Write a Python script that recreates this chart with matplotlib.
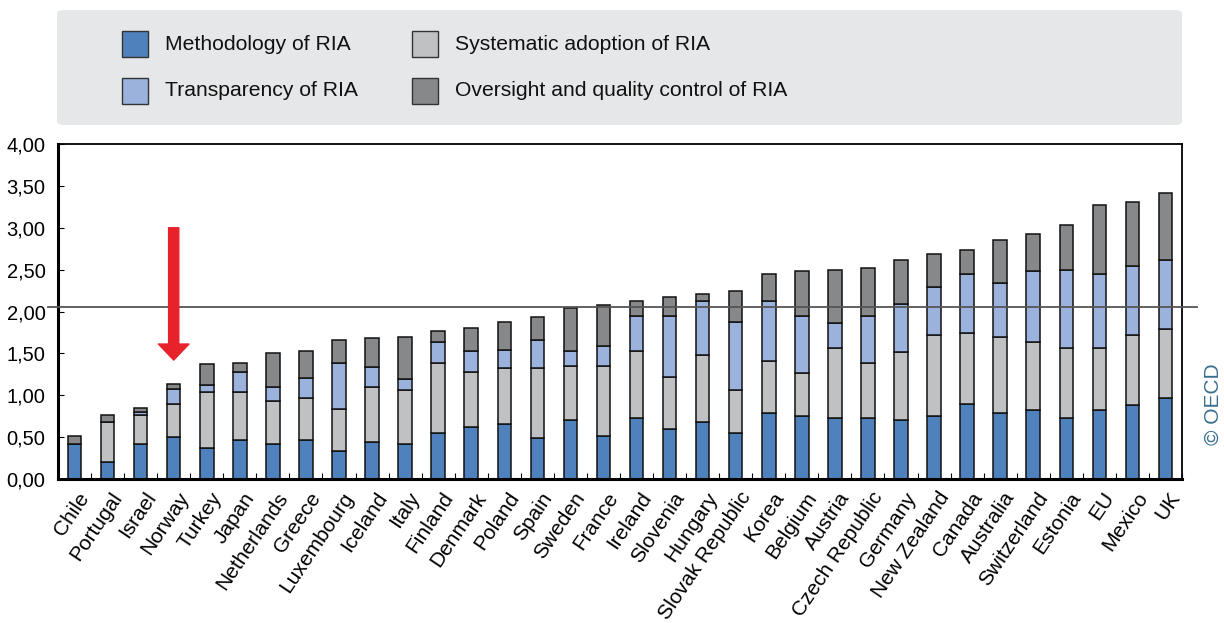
import matplotlib
matplotlib.use("Agg")
import matplotlib.pyplot as plt
from matplotlib.patches import FancyBboxPatch, Rectangle
from matplotlib.ticker import FuncFormatter, MultipleLocator
from matplotlib.transforms import ScaledTranslation
import numpy as np

plt.rcParams['font.family'] = ['Liberation Sans', 'DejaVu Sans']

countries = ["Chile", "Portugal", "Israel", "Norway", "Turkey", "Japan", "Netherlands",
             "Greece", "Luxembourg", "Iceland", "Italy", "Finland", "Denmark", "Poland",
             "Spain", "Sweden", "France", "Ireland", "Slovenia", "Hungary",
             "Slovak Republic", "Korea", "Belgium", "Austria", "Czech Republic",
             "Germany", "New Zealand", "Canada", "Australia", "Switzerland", "Estonia",
             "EU", "Mexico", "UK"]

methodology = [0.42, 0.20, 0.42, 0.50, 0.37, 0.46, 0.42, 0.46, 0.33, 0.44, 0.42, 0.55,
               0.62, 0.66, 0.49, 0.71, 0.51, 0.73, 0.60, 0.68, 0.55, 0.79, 0.75, 0.73,
               0.73, 0.70, 0.75, 0.90, 0.79, 0.82, 0.73, 0.82, 0.88, 0.97]
systematic = [0.00, 0.48, 0.34, 0.40, 0.67, 0.58, 0.51, 0.51, 0.51, 0.66, 0.64, 0.84,
              0.66, 0.66, 0.84, 0.64, 0.84, 0.80, 0.62, 0.80, 0.51, 0.62, 0.51, 0.84,
              0.66, 0.82, 0.97, 0.84, 0.91, 0.82, 0.84, 0.75, 0.84, 0.82]
transparency = [0.00, 0.00, 0.04, 0.18, 0.08, 0.24, 0.17, 0.24, 0.55, 0.24, 0.14, 0.25,
                0.25, 0.22, 0.33, 0.18, 0.24, 0.42, 0.73, 0.64, 0.82, 0.71, 0.69, 0.29,
                0.56, 0.57, 0.57, 0.71, 0.64, 0.84, 0.93, 0.88, 0.82, 0.82]
oversight = [0.09, 0.08, 0.05, 0.05, 0.25, 0.11, 0.40, 0.32, 0.27, 0.34, 0.49, 0.13,
             0.27, 0.33, 0.27, 0.51, 0.49, 0.18, 0.22, 0.09, 0.37, 0.33, 0.53, 0.64,
             0.57, 0.53, 0.40, 0.29, 0.51, 0.44, 0.53, 0.82, 0.77, 0.80]

average = 2.05
arrow_country = "Norway"
arrow_top, arrow_tip = 3.0, 1.42

series = [
    ("Methodology of RIA", methodology, "#4f81bd"),
    ("Systematic adoption of RIA", systematic, "#c0c1c3"),
    ("Transparency of RIA", transparency, "#9bb2dc"),
    ("Oversight and quality control of RIA", oversight, "#87888a"),
]

W, H = 1224, 623
fig = plt.figure(figsize=(W / 100, H / 100), dpi=100)
ax = fig.add_axes([58 / W, 1 - 479 / H, 1124 / W, 335 / H])

x = np.arange(len(countries))
bottom = np.zeros(len(countries))
for name, vals, col in series:
    v = np.array(vals)
    ax.bar(x, v, 0.41, bottom=bottom, color=col, edgecolor="#111111", linewidth=1.1, zorder=2)
    bottom += v

ax.set_xlim(-0.5, len(countries) - 0.5)
ax.set_ylim(0, 4)
ax.yaxis.set_major_locator(MultipleLocator(0.5))
ax.yaxis.set_major_formatter(FuncFormatter(lambda v, p: f"{v:.2f}".replace(".", ",")))
ax.tick_params(axis="y", direction="in", length=4, width=0.8, labelsize=14.5, pad=9)

ax.set_xticks(x)
ax.set_xticklabels(countries, rotation=56, ha="right", rotation_mode="anchor", fontsize=15)
ax.tick_params(axis="x", length=0, pad=7)
shift = ScaledTranslation(3 / 100, 0, fig.dpi_scale_trans)
for lab in ax.get_xticklabels():
    lab.set_transform(lab.get_transform() + shift)
ax.set_xticks(np.arange(len(countries) + 1) - 0.5, minor=True)
ax.tick_params(axis="x", which="minor", direction="in", length=4, width=0.8)

for s in ["left", "bottom"]:
    ax.spines[s].set_linewidth(2.2)
for s in ["top", "right"]:
    ax.spines[s].set_linewidth(1.3)

ax.axhline(average, xmin=-0.009, xmax=1.013, color="#555555", linewidth=1.3, zorder=3, clip_on=False)

# Red arrow
ai = countries.index(arrow_country)
ax.annotate("", xy=(ai, arrow_tip), xytext=(ai, arrow_top),
            arrowprops=dict(arrowstyle="simple,head_length=1.1,head_width=2.1,tail_width=0.7",
                            color="#e8222b", shrinkA=0, shrinkB=0, mutation_scale=10.5),
            zorder=5)

# Legend box
box = FancyBboxPatch((57 / W, 1 - 125 / H), 1125 / W, 115 / H,
                     boxstyle="round,pad=0,rounding_size=0.006",
                     transform=fig.transFigure, facecolor="#e6e7e8", edgecolor="none", zorder=0)
fig.patches.append(box)

leg_items = [
    ("Methodology of RIA", "#4f81bd", 122, 44),
    ("Transparency of RIA", "#9bb2dc", 122, 91),
    ("Systematic adoption of RIA", "#c0c1c3", 412, 44),
    ("Oversight and quality control of RIA", "#87888a", 412, 91),
]
for label, col, px, py in leg_items:
    r = Rectangle((px / W, 1 - (py + 13) / H), 26 / W, 26 / H, transform=fig.transFigure,
                  facecolor=col, edgecolor="#333333", linewidth=1.0)
    fig.patches.append(r)
    fig.text((px + 43) / W, 1 - py / H, label, fontsize=15.2, va="center", ha="left", color="#111111")

fig.text(1213 / W, 1 - 404 / H, "© OECD", rotation=90, fontsize=15, color="#3b6f8f",
         va="center", ha="center")

fig.savefig("out.png", dpi=100)
